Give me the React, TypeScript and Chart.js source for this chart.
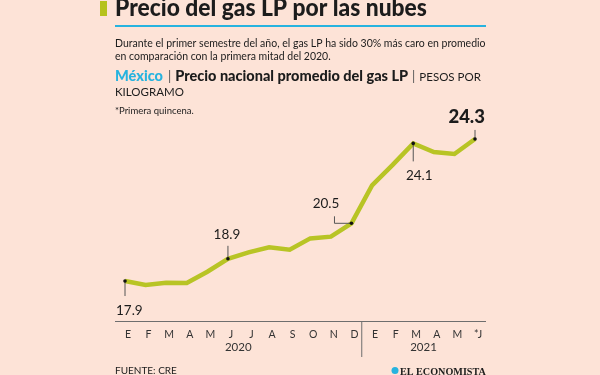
import React, { useEffect, useRef } from 'react';
import { Chart, registerables } from 'chart.js';
Chart.register(...registerables);

const months = ['E', 'F', 'M', 'A', 'M', 'J', 'J', 'A', 'S', 'O', 'N', 'D', 'E', 'F', 'M', 'A', 'M', '*J'];
const years = ['2020', '2021'];
const yearSpans = [[0, 11], [12, 17]];
const prices = [17.9, 17.72, 17.82, 17.81, 18.32, 18.9, 19.19, 19.42, 19.31, 19.82, 19.9, 20.5, 22.21, 23.13, 24.1, 23.71, 23.62, 24.3];
const labeledPoints = [0, 5, 11, 14, 17];

const title = 'Precio del gas LP por las nubes';
const subtitle1 = 'Durante el primer semestre del año, el gas LP ha sido 30% más caro en promedio';
const subtitle2 = 'en comparación con la primera mitad del 2020.';
const country = 'México';
const seriesName = 'Precio nacional promedio del gas LP';
const unit1 = 'PESOS POR';
const unit2 = 'KILOGRAMO';
const note = '*Primera quincena.';
const source = 'FUENTE: CRE';
const brand = 'EL ECONOMISTA';

const BG = '#fde3d7';
const LINE = '#b8c425';
const CYAN = '#27b3df';
const TEXT = '#1c1c1c';
const FONT = 'Lato, "Noto Sans", sans-serif';

function fitFont(ctx: CanvasRenderingContext2D, text: string, weight: string, width: number) {
  ctx.font = `${weight} 20px ${FONT}`;
  const w = ctx.measureText(text).width;
  return (20 * width) / w;
}

const decor = {
  id: 'decor',
  beforeDraw(chart: any) {
    const ctx = chart.ctx;
    ctx.save();
    ctx.fillStyle = BG;
    ctx.fillRect(0, 0, chart.width, chart.height);
    ctx.restore();
  },
  afterDraw(chart: any) {
    const ctx: CanvasRenderingContext2D = chart.ctx;
    const xs = chart.scales.x;
    const ys = chart.scales.y;
    const px = (i: number) => xs.getPixelForValue(i);
    const py = (i: number) => ys.getPixelForValue(prices[i]);
    ctx.save();
    ctx.textBaseline = 'alphabetic';

    // title block
    ctx.fillStyle = '#b5c21c';
    ctx.fillRect(100, 1, 7, 15);
    ctx.fillStyle = TEXT;
    let fs = fitFont(ctx, title, '900', 312);
    ctx.font = `900 ${fs}px ${FONT}`;
    ctx.textAlign = 'left';
    ctx.save();
    ctx.translate(115, 15.5);
    ctx.scale(1, 1.12);
    ctx.fillText(title, 0, 0);
    ctx.restore();
    ctx.fillStyle = CYAN;
    ctx.fillRect(115, 25, 371, 2);

    ctx.fillStyle = TEXT;
    fs = fitFont(ctx, subtitle1, 'normal', 371);
    ctx.font = `normal ${fs}px ${FONT}`;
    ctx.fillText(subtitle1, 115, 47);
    ctx.fillText(subtitle2, 115, 59.5);

    // series line
    ctx.font = `900 14.5px ${FONT}`;
    ctx.fillStyle = CYAN;
    ctx.fillText(country, 115, 80.5);
    let x = 115 + ctx.measureText(country).width + 5;
    ctx.fillStyle = '#555';
    ctx.font = `normal 13px ${FONT}`;
    ctx.fillText('|', x, 80.5);
    x += ctx.measureText('|').width + 4;
    ctx.fillStyle = TEXT;
    ctx.font = `900 14.5px ${FONT}`;
    ctx.fillText(seriesName, x, 80.5);
    x += ctx.measureText(seriesName).width + 4;
    ctx.fillStyle = '#555';
    ctx.font = `normal 13px ${FONT}`;
    ctx.fillText('|', x, 80.5);
    x += ctx.measureText('|').width + 4;
    ctx.fillStyle = TEXT;
    ctx.font = `normal 11.5px ${FONT}`;
    ctx.fillText(unit1, x, 80.5);
    ctx.fillText(unit2, 115, 96);

    ctx.font = `normal 9.5px ${FONT}`;
    ctx.fillText(note, 115, 114);

    // x axis
    const axisY = 321.5;
    ctx.strokeStyle = '#6e6e6e';
    ctx.lineWidth = 1;
    ctx.beginPath();
    ctx.moveTo(115, axisY);
    ctx.lineTo(486, axisY);
    ctx.stroke();
    const sepX = (px(11) + px(12)) / 2;
    ctx.beginPath();
    ctx.moveTo(sepX, axisY);
    ctx.lineTo(sepX, 357);
    ctx.stroke();

    ctx.fillStyle = '#333';
    ctx.textAlign = 'center';
    ctx.font = `normal 10.5px ${FONT}`;
    months.forEach((m, i) => ctx.fillText(m, px(i) + 3, 338));
    ctx.font = `normal 11.5px ${FONT}`;
    years.forEach((y, k) => {
      const [a, b] = yearSpans[k];
      ctx.fillText(y, (px(a) + px(b)) / 2, 351);
    });

    // annotations
    ctx.strokeStyle = '#555';
    ctx.lineWidth = 1;
    ctx.fillStyle = TEXT;
    const line = (pts: number[][]) => {
      ctx.beginPath();
      ctx.moveTo(pts[0][0], pts[0][1]);
      for (let k = 1; k < pts.length; k++) ctx.lineTo(pts[k][0], pts[k][1]);
      ctx.stroke();
    };
    labeledPoints.forEach((i, k) => {
      const X = px(i), Y = py(i);
      const txt = prices[i].toFixed(1);
      ctx.font = `normal 13.5px ${FONT}`;
      if (k === 0) {
        line([[X, Y], [X, Y + 15]]);
        ctx.textAlign = 'left';
        ctx.fillText(txt, X - 9, Y + 34);
      } else if (k === 1) {
        line([[X, Y], [X, Y - 13]]);
        ctx.textAlign = 'center';
        ctx.fillText(txt, X - 1, Y - 20);
      } else if (k === 2) {
        line([[X, Y], [X - 17, Y], [X - 17, Y - 7]]);
        ctx.textAlign = 'center';
        ctx.fillText(txt, X - 25.5, Y - 15);
      } else if (k === 3) {
        line([[X, Y], [X, Y + 18]]);
        ctx.textAlign = 'center';
        ctx.fillText(txt, X + 6, Y + 37);
      } else {
        line([[X, Y], [X, Y - 9]]);
        ctx.textAlign = 'right';
        ctx.font = `900 18.5px ${FONT}`;
        ctx.fillText(txt, X + 10, Y - 16);
      }
      ctx.fillStyle = '#111';
      ctx.beginPath();
      ctx.arc(X, Y, 1.8, 0, Math.PI * 2);
      ctx.fill();
      ctx.fillStyle = TEXT;
    });

    // footer
    ctx.textAlign = 'left';
    ctx.fillStyle = TEXT;
    ctx.font = `normal 10px ${FONT}`;
    ctx.fillText(source, 115, 374);
    ctx.fillStyle = CYAN;
    ctx.beginPath();
    ctx.arc(395, 370.5, 3.5, 0, Math.PI * 2);
    ctx.fill();
    ctx.fillStyle = TEXT;
    ctx.font = `bold 20px "Liberation Serif", serif`;
    fs = (20 * 86) / ctx.measureText(brand).width;
    ctx.font = `bold ${fs}px "Liberation Serif", serif`;
    ctx.fillText(brand, 400, 374.5);
    ctx.restore();
  },
};

export default function App() {
  const ref = useRef<HTMLCanvasElement | null>(null);
  useEffect(() => {
    if (!ref.current) return;
    const chart = new Chart(ref.current, {
      type: 'line',
      data: {
        labels: months.map((m, i) => `${m}${i}`),
        datasets: [
          {
            data: prices,
            borderColor: LINE,
            borderWidth: 4.5,
            pointRadius: 0,
            tension: 0,
            fill: false,
          },
        ],
      },
      options: {
        animation: false,
        responsive: false,
        devicePixelRatio: 1,
        layout: { padding: { left: 125, right: 125, top: 134.5, bottom: 74 } },
        plugins: { legend: { display: false }, tooltip: { enabled: false } },
        scales: {
          x: { display: false, offset: false },
          y: { display: false, min: 17.0, max: 24.5 },
        },
        elements: { line: { borderCapStyle: 'butt', borderJoinStyle: 'miter' } },
      } as any,
      plugins: [decor],
    });
    return () => chart.destroy();
  }, []);
  return (
    <div style={{ position: 'fixed', left: 0, top: 0, width: 600, height: 375, background: BG }}>
      <canvas ref={ref} width={600} height={375} style={{ display: 'block' }} />
    </div>
  );
}
